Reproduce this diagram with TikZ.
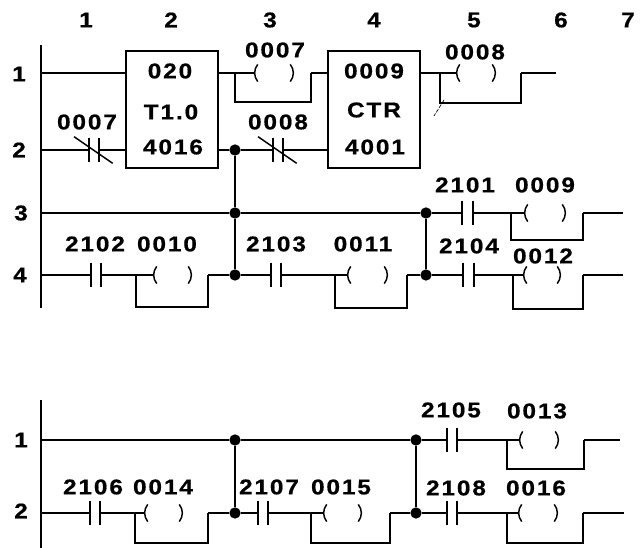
\documentclass[tikz,border=0pt]{standalone}
\usepackage{fontspec}
\newfontfamily\lblfont{Liberation Sans}[UprightFont={* Bold},FakeStretch=1.14,LetterSpace=9,FakeBold=0.7]
\tikzset{
  wire/.style={line width=1.2pt,line join=miter,line cap=butt},
  lbl/.style={font=\lblfont\fontsize{16pt}{17pt}\selectfont,inner sep=0pt,text=black},
  box/.style={draw,line width=1.3pt,inner sep=0pt},
  contact/.style={inner sep=0pt,minimum width=7.5pt,minimum height=18pt,
    append after command={
      (\tikzlastnode.north west) edge[line width=1.5pt] (\tikzlastnode.south west)
      (\tikzlastnode.north east) edge[line width=1.5pt] (\tikzlastnode.south east)}},
  nccontact/.style={contact,
    append after command={
      ([shift={(-15pt,10pt)}]\tikzlastnode.center) edge[line width=1.1pt] ([shift={(14pt,-10pt)}]\tikzlastnode.center)}},
  coil/.style={inner sep=0pt,minimum height=12.5pt,
    append after command={
      (\tikzlastnode.north west) edge[line width=1.1pt,bend right=38] (\tikzlastnode.south west)
      (\tikzlastnode.north east) edge[line width=1.1pt,bend left=38] (\tikzlastnode.south east)}},
  junction/.style={circle,fill,inner sep=0pt,minimum size=8.5pt},
}
% \Coil{name}{paren left x}{paren right x}{y}{branch x}{branch y}{return x}
\newcommand{\Coil}[7]{%
  \node[coil,minimum width={(#3-#2)*0.75pt}] (#1) at ({(#2+#3)/2},#4) {};
  \coordinate (#1-a) at (#5,#4);
  \coordinate (#1-b) at (#5,#6);
  \coordinate (#1-c) at (#7,#6);
  \coordinate (#1-d) at (#7,#4);
  \draw[wire] (#1-a) -- ([xshift=-2pt]#1.west);
  \draw[wire] (#1-a) -- (#1-b) -- (#1-c) -- (#1-d);
}
\newcommand{\Lbl}[3]{\node[lbl] at (#1,#2) {#3};}
\begin{document}
\begin{tikzpicture}[x=0.75pt,y=-0.75pt]
\useasboundingbox (0,0) rectangle (644,548);
\fill[white] (0,0) rectangle (644,548);

% heads
\Lbl{86}{20}{1}\Lbl{171}{20}{2}\Lbl{270}{20}{3}\Lbl{374}{20}{4}\Lbl{474}{20}{5}\Lbl{561}{20}{6}\Lbl{628}{20}{7}
\Lbl{19}{74}{1}\Lbl{19}{150}{2}\Lbl{21}{213}{3}\Lbl{20}{275}{4}
\Lbl{21}{440}{1}\Lbl{21}{511}{2}

% rails
\coordinate (r1t) at (41,45); \coordinate (r1b) at (41,308);
\coordinate (r2t) at (41,400); \coordinate (r2b) at (41,548);
\draw[wire] (r1t) -- (r1b);
\draw[wire] (r2t) -- (r2b);
\foreach \n/\y in {a/73,b/150,c/213,d/275} \coordinate (L\n) at (41,\y);
\foreach \n/\y in {e/440,f/513} \coordinate (L\n) at (41,\y);

% boxes
\node[box,minimum width=69pt,minimum height=87.75pt] (b1) at (172,109.5) {};
\node[box,minimum width=69pt,minimum height=87.75pt] (b2) at (374,109.5) {};
\Lbl{170}{71}{020}\Lbl{171}{112}{T1.0}\Lbl{173}{147}{4016}
\Lbl{374}{71}{0009}\Lbl{374}{110}{CTR}\Lbl{375}{147}{4001}
\coordinate (b1i1) at (126,73); \coordinate (b1i2) at (126,150);
\coordinate (b1o1) at (218,73); \coordinate (b1o2) at (218,150);
\coordinate (b2i1) at (328,73); \coordinate (b2i2) at (328,150);
\coordinate (b2o1) at (420,73);

% junctions
\node[junction] (j1) at (235,150) {};
\node[junction] (j2) at (235,213) {};
\node[junction] (j3) at (235,275) {};
\node[junction] (j4) at (426,213) {};
\node[junction] (j5) at (426,275) {};
\node[junction] (j6) at (235,440) {};
\node[junction] (j7) at (235,513) {};
\node[junction] (j8) at (416,440) {};
\node[junction] (j9) at (416,513) {};
\draw[wire] (j1) -- (j2) -- (j3);
\draw[wire] (j4) -- (j5);
\draw[wire] (j6) -- (j7);
\draw[wire] (j8) -- (j9);

% upper rung 1
\draw[wire] (La) -- (b1i1);
\Coil{k1}{258}{290}{73}{235}{102}{311}
\draw[wire] (b1o1) -- (k1-a);
\draw[wire] (k1-d) -- (b2i1);
\Lbl{275}{50}{0007}
\Coil{k2}{460}{492}{73}{440}{103}{521}
\coordinate (e2) at (556,73);
\draw[wire] (b2o1) -- (k2-a);
\draw[wire] (k2-d) -- (e2);
\Lbl{475}{52}{0008}
\coordinate (sc1) at (444,100); \coordinate (sc2) at (434,116);
\draw[line width=.5pt,dash pattern=on 3pt off 1pt] (sc1) -- (sc2);

% upper rung 2
\node[nccontact] (c1) at (94,150) {};
\draw[wire] (Lb) -- (c1) -- (b1i2);
\Lbl{87}{122}{0007}
\node[nccontact] (c2) at (278,150) {};
\draw[wire] (b1o2) -- (j1) -- (c2) -- (b2i2);
\Lbl{278}{122}{0008}

% upper rung 3
\node[contact] (c3) at (467.5,213) {};
\draw[wire] (Lc) -- (j2) -- (j4) -- (c3);
\Coil{k3}{528}{562}{213}{511}{240}{583}
\coordinate (e3) at (623,213);
\draw[wire] (c3) -- (k3-a);
\draw[wire] (k3-d) -- (e3);
\Lbl{465}{185}{2101}\Lbl{545}{185}{0009}

% upper rung 4
\node[contact] (c4) at (96,275) {};
\draw[wire] (Ld) -- (c4);
\Coil{k4}{157}{188}{275}{136}{307}{208}
\draw[wire] (c4) -- (k4-a);
\draw[wire] (k4-d) -- (j3);
\Lbl{95}{244}{2102}\Lbl{167}{244}{0010}
\node[contact] (c5) at (276,275) {};
\draw[wire] (j3) -- (c5);
\Coil{k5}{351}{384}{275}{335}{308}{407}
\draw[wire] (c5) -- (k5-a);
\draw[wire] (k5-d) -- (j5);
\Lbl{276}{244}{2103}\Lbl{363}{244}{0011}
\node[contact] (c6) at (468.5,275) {};
\draw[wire] (j5) -- (c6);
\Coil{k6}{527}{557}{275}{513}{309}{583}
\coordinate (e6) at (623,275);
\draw[wire] (c6) -- (k6-a);
\draw[wire] (k6-d) -- (e6);
\Lbl{469}{246}{2104}\Lbl{543}{256}{0012}

% lower rung 1
\node[contact] (c7) at (452,440) {};
\draw[wire] (Le) -- (j6) -- (j8) -- (c7);
\Coil{k7}{523}{555}{440}{507}{469}{584}
\coordinate (e7) at (620,440);
\draw[wire] (c7) -- (k7-a);
\draw[wire] (k7-d) -- (e7);
\Lbl{451}{410}{2105}\Lbl{537}{411}{0013}

% lower rung 2
\node[contact] (c8) at (95,513) {};
\draw[wire] (Lf) -- (c8);
\Coil{k8}{148}{179}{513}{135}{543}{208}
\draw[wire] (c8) -- (k8-a);
\draw[wire] (k8-d) -- (j7);
\Lbl{93}{487}{2106}\Lbl{163}{487}{0014}
\node[contact] (c9) at (263,513) {};
\draw[wire] (j7) -- (c9);
\Coil{k9}{327}{358}{513}{311}{543}{390}
\draw[wire] (c9) -- (k9-a);
\draw[wire] (k9-d) -- (j9);
\Lbl{269}{487}{2107}\Lbl{341}{487}{0015}
\node[contact] (c10) at (452,513) {};
\draw[wire] (j9) -- (c10);
\Coil{k10}{522}{554}{513}{507}{543}{583}
\coordinate (e10) at (624,513);
\draw[wire] (c10) -- (k10-a);
\draw[wire] (k10-d) -- (e10);
\Lbl{456}{488}{2108}\Lbl{536}{488}{0016}
\end{tikzpicture}
\end{document}
